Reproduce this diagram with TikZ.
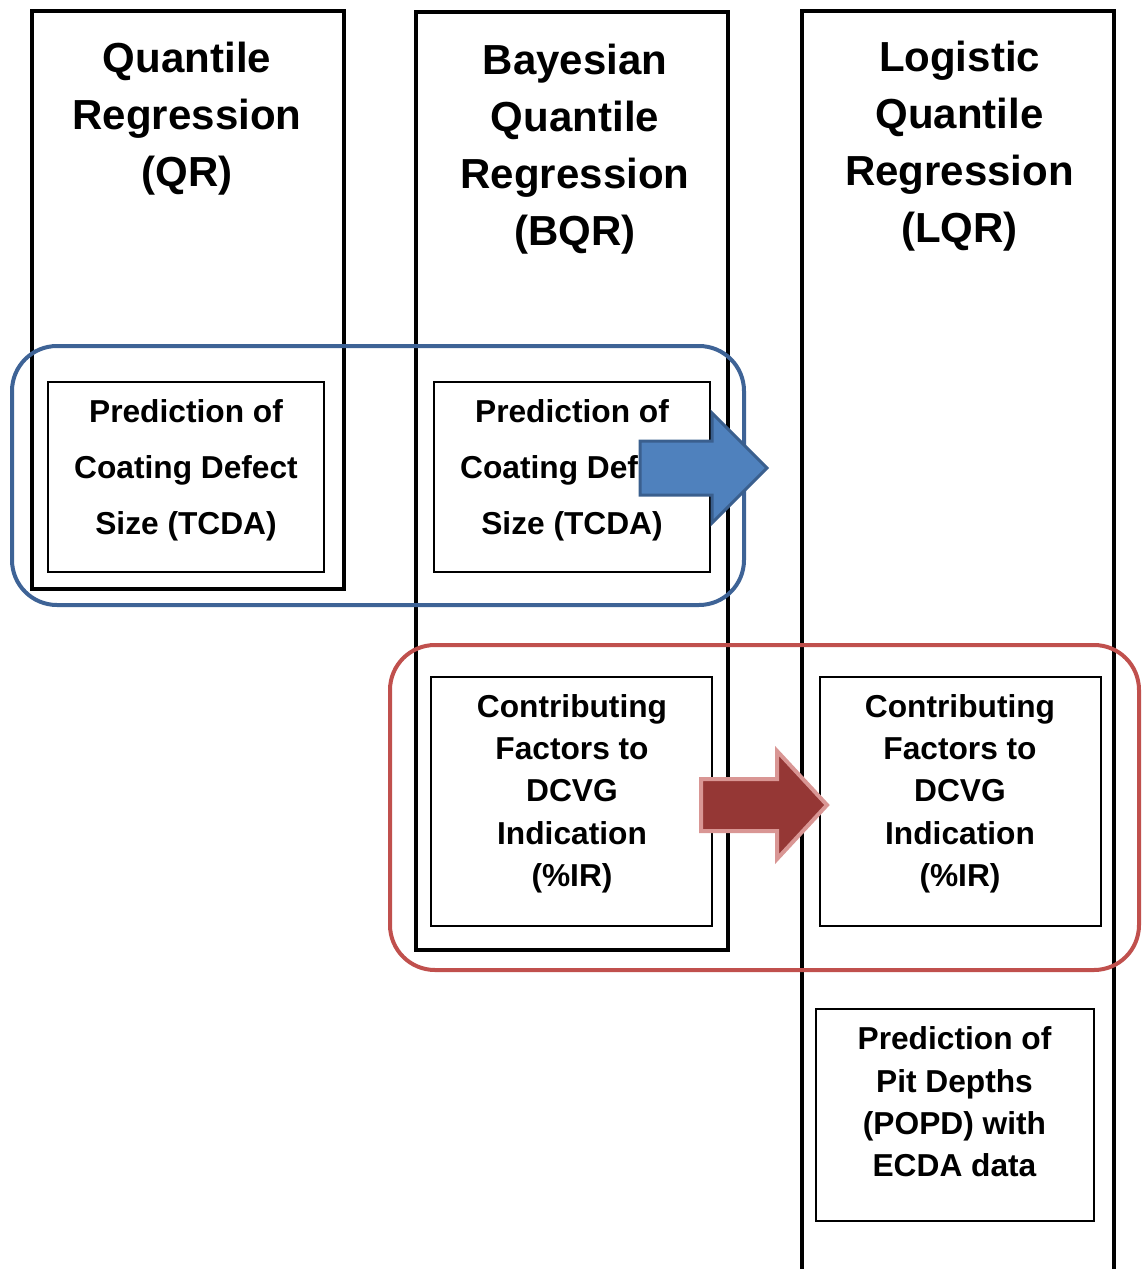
\documentclass[tikz,border=0pt]{standalone}
\usepackage{fontspec}
\setmainfont{Liberation Sans}
\definecolor{frameblue}{HTML}{3E6396}
\definecolor{framered}{HTML}{C0504D}
\definecolor{arrowblue}{HTML}{4F81BD}
\definecolor{arrowblueedge}{HTML}{3A5F8E}
\definecolor{arrowred}{HTML}{953735}
\definecolor{arrowrededge}{HTML}{D99694}
\begin{document}
\begin{tikzpicture}[x=1pt,y=-1pt,
  column/.style={draw=black,line width=4pt,inner sep=0pt,minimum width=312pt},
  stage/.style={draw=black,line width=2pt,inner sep=0pt},
  group/.style={draw=#1,line width=4pt,rounded corners=45pt,inner sep=0pt},
  title/.style={font=\bfseries\fontsize{42}{57}\selectfont,align=center,inner sep=0pt},
  boxtext/.style={font=\bfseries\fontsize{31.7}{#1}\selectfont,align=center,inner sep=0pt},
  boxtext/.default={42.3},
  blockarrow/.style={fill=#1,line join=miter}]
\useasboundingbox (0,0) rectangle (1141,1269);

% method columns
\node[column,minimum height=578pt]  (colQR)  at (188,300)   {};
\node[column,minimum height=938pt]  (colBQR) at (572,481)   {};
\node[column,minimum height=1279pt] (colLQR) at (958,650.5) {};

% column headings
\node[title] (tQR)  at (187,119)   {Quantile\\Regression\\(QR)};
\node[title] (tBQR) at (575,149.5) {Bayesian\\Quantile\\Regression\\(BQR)};
\node[title] (tLQR) at (959.5,146) {Logistic\\Quantile\\Regression\\(LQR)};

% grouping frames
\node[group=frameblue,minimum width=732pt,minimum height=259pt] (gTCDA) at (378,475.5) {};
\node[group=framered,minimum width=749pt,minimum height=325pt] (gIR) at (764.5,807.5) {};

% stage boxes
\node[stage,minimum width=276pt,minimum height=190pt] (bQR)   at (186,477)     {};
\node[stage,minimum width=276pt,minimum height=190pt] (bBQR)  at (572,477)     {};
\node[stage,minimum width=281pt,minimum height=249pt] (bBQRb) at (571.5,801.5) {};
\node[stage,minimum width=281pt,minimum height=249pt] (bLQRb) at (960.5,801.5) {};
\node[stage,minimum width=278pt,minimum height=212pt] (bPOPD) at (955,1115)    {};

\node[boxtext=56] (sQR)   at (186,470)   {Prediction of\\Coating Defect\\Size (TCDA)};
\node[boxtext=56] (sBQR)  at (572,470)   {Prediction of\\Coating Defect\\Size (TCDA)};
\node[boxtext]    (sBQRb) at (572,793.5) {Contributing\\Factors to\\DCVG\\Indication\\(\%IR)};
\node[boxtext]    (sLQRb) at (960,793.5) {Contributing\\Factors to\\DCVG\\Indication\\(\%IR)};
\node[boxtext]    (sPOPD) at (954.5,1102) {Prediction of\\Pit Depths\\(POPD) with\\ECDA data};

% block arrows
\draw[blockarrow=arrowblue,draw=arrowblueedge,line width=3pt]
  (640,441) -- (712,441) -- (712,413) -- (767,468) -- (712,523) -- (712,495) -- (640,495) -- cycle;
\draw[blockarrow=arrowred,draw=arrowrededge,line width=4pt]
  (701,779) -- (777,779) -- (777,751) -- (827,805) -- (777,859) -- (777,831) -- (701,831) -- cycle;
\end{tikzpicture}
\end{document}
